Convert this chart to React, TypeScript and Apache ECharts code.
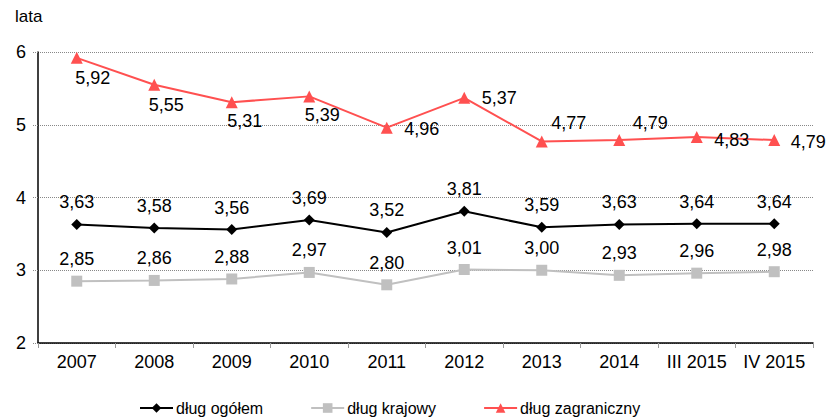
import React, { useEffect, useRef } from "react";
import * as echarts from "echarts";

const categories = ["2007", "2008", "2009", "2010", "2011", "2012", "2013", "2014", "III 2015", "IV 2015"];
const dlugOgolem = [3.63, 3.58, 3.56, 3.69, 3.52, 3.81, 3.59, 3.63, 3.64, 3.64];
const dlugKrajowy = [2.85, 2.86, 2.88, 2.97, 2.8, 3.01, 3.0, 2.93, 2.96, 2.98];
const dlugZagraniczny = [5.92, 5.55, 5.31, 5.39, 4.96, 5.37, 4.77, 4.79, 4.83, 4.79];
const yTicks = { min: 2, max: 6, interval: 1 };

// label offsets (style only)
const redLabelOffsets: [number, number][] = [
  [16, 20], [12, 20], [13, 19], [13, 19], [35, 1], [35, 0], [27, -18], [31, -17], [35, 3], [34, 2],
];

const fmt = (v: number) => v.toFixed(2).replace(".", ",");
const FONT = "Liberation Sans, Arial, sans-serif";

export default function App() {
  const ref = useRef<HTMLDivElement>(null);
  useEffect(() => {
    if (!ref.current) return;
    const chart = echarts.init(ref.current, undefined, { renderer: "svg" });
    const labelBase = {
      show: true,
      fontSize: 18,
      fontFamily: FONT,
      color: "#000",
      formatter: (p: any) => fmt(p.value),
    };
    chart.setOption({
      animation: false,
      textStyle: { fontFamily: FONT },
      graphic: [
        {
          type: "text",
          left: 15,
          top: 8,
          style: { text: "lata", fontSize: 17, fontFamily: FONT, fill: "#000" },
        },
      ],
      legend: {
        bottom: -2,
        left: 134,
        itemWidth: 33,
        itemHeight: 12,
        itemGap: 47,
        textStyle: { fontSize: 16, fontFamily: FONT, color: "#000", padding: [0, 0, 0, -2] },
        data: ["dług ogółem", "dług krajowy", "dług zagraniczny"],
      },
      grid: { left: 38, right: 27, top: 52, bottom: 76 },
      xAxis: {
        type: "category",
        data: categories,
        boundaryGap: true,
        axisLine: { lineStyle: { color: "#000", width: 1.5 } },
        axisTick: { show: true, length: 5, interval: 0, lineStyle: { color: "#999" } },
        axisLabel: { fontSize: 18, fontFamily: FONT, color: "#000", margin: 10, interval: 0 },
      },
      yAxis: {
        type: "value",
        min: yTicks.min,
        max: yTicks.max,
        interval: yTicks.interval,
        axisLine: { show: true, lineStyle: { color: "#000", width: 1.5 } },
        axisTick: { show: true, length: 5, lineStyle: { color: "#888", type: "dotted" } },
        axisLabel: { fontSize: 18, fontFamily: FONT, color: "#000", margin: 12 },
        splitLine: { show: true, lineStyle: { color: "#888", type: "dotted", width: 1 } },
      },
      series: [
        {
          name: "dług ogółem",
          type: "line",
          data: dlugOgolem,
          symbol: "diamond",
          symbolSize: 11,
          itemStyle: { color: "#000" },
          lineStyle: { color: "#000", width: 2 },
          label: { ...labelBase, position: "inside", offset: [0, -22] },
          z: 3,
        },
        {
          name: "dług krajowy",
          type: "line",
          data: dlugKrajowy,
          symbol: "rect",
          symbolSize: 11,
          itemStyle: { color: "#c0c0c0" },
          lineStyle: { color: "#c0c0c0", width: 2 },
          label: { ...labelBase, position: "inside", offset: [0, -22] },
          z: 2,
        },
        {
          name: "dług zagraniczny",
          type: "line",
          data: dlugZagraniczny.map((v, i) => ({
            value: v,
            label: { position: "inside", offset: redLabelOffsets[i] },
          })),
          symbol: "triangle",
          symbolSize: 12,
          itemStyle: { color: "#ff5050" },
          lineStyle: { color: "#ff5050", width: 2 },
          label: { ...labelBase, position: "inside" },
          z: 4,
        },
      ],
    });
    return () => chart.dispose();
  }, []);
  return (
    <div
      ref={ref}
      style={{ position: "fixed", left: 0, top: 0, width: 840, height: 419, background: "#fff" }}
    />
  );
}
